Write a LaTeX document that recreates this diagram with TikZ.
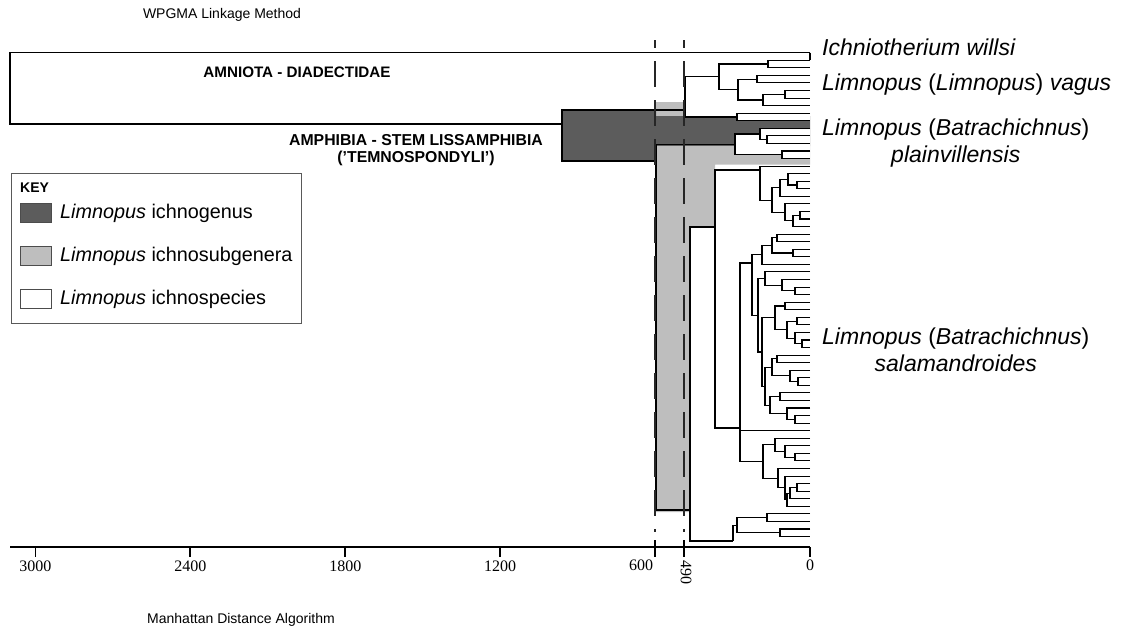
\documentclass[tikz,border=0pt]{standalone}
\usepackage{fontspec}
\setmainfont{Liberation Sans}
\newfontfamily\axisfont{Liberation Serif}
\usetikzlibrary{calc,backgrounds}
\definecolor{genusgray}{HTML}{5C5C5C}
\definecolor{subgengray}{HTML}{BEBEBE}
\tikzset{
  branch/.style={draw=black, line width=1.1pt},
  hullline/.style={draw=black, line width=1.5pt},
  cutline/.style={draw=black!85, line width=2.4pt, dash pattern=on 26pt off 13pt, dash phase=18pt},
  axisline/.style={draw=black, line width=1.8pt},
  ticknum/.style={font=\axisfont\fontsize{16}{18}\selectfont, inner sep=1pt},
  taxon/.style={font=\fontsize{23}{27}\selectfont, align=center, anchor=west, inner sep=0pt},
  grouplabel/.style={font=\bfseries\fontsize{15.2}{16.5}\selectfont, align=center, inner sep=0pt},
  keytext/.style={font=\fontsize{19.8}{22}\selectfont, anchor=west, inner sep=0pt},
  keyframe/.style={draw=black!65, line width=0.9pt, minimum width=290pt, minimum height=150pt, inner sep=0pt},
  swatch/.style={draw=black!70, line width=0.9pt, minimum width=31pt, minimum height=19pt, inner sep=0pt},
  caption/.style={font=\fontsize{14}{16}\selectfont, inner sep=0pt}
}
\newcommand\clade[4]{%
  \path let \p1=($(#3)!.5!(#4)$) in (#2pt,\y1) coordinate (#1);
  \draw[branch] (#3) -| (#1) |- (#4);}
\newcommand\cladeat[5]{%
  \coordinate (#1) at (#2,#3);
  \draw[branch] (#4) -| (#1) |- (#5);}

\begin{document}
\begin{tikzpicture}[x=1pt, y=-1pt]
  \useasboundingbox (0,0) rectangle (1125,635);
  \foreach \i in {0,...,64} \coordinate (l\i) at (810,{52.7+7.56*\i});

  % Limnopus (Limnopus)
  \clade{va}{768}{l1}{l2}
  \clade{vb}{757}{l3}{l4}
  \clade{vc}{785}{l5}{l6}
  \clade{vd}{763}{vc}{l7}
  \clade{ve}{738}{vb}{vd}
  \clade{vag}{719}{va}{ve}
  \clade{vx}{737}{l8}{l9}
  \cladeat{lim}{685}{110}{vag}{vx}

  % plainvillensis
  \clade{pa}{767}{l11}{l12}
  \clade{pb}{760}{l10}{pa}
  \clade{pc}{782}{l13}{l14}
  \clade{pla}{735}{pb}{pc}

  % salamandroides
  \clade{sa}{797}{l17}{l18}
  \clade{sb}{788}{l16}{sa}
  \clade{sc}{780}{sb}{l19}
  \clade{sd}{800}{l21}{l22}
  \clade{se}{793}{sd}{l23}
  \clade{sf}{785}{l20}{se}
  \clade{sg}{772}{sc}{sf}
  \cladeat{sh}{760}{170}{l15}{sg}
  \clade{ua}{777}{l24}{l25}
  \clade{ub}{793}{l26}{l27}
  \clade{uc}{772}{ua}{ub}
  \clade{ud}{762}{uc}{l28}
  \clade{ue}{795}{l31}{l32}
  \clade{uf}{782}{l30}{ue}
  \clade{ug}{765}{l29}{uf}
  \clade{uh}{785}{l33}{l34}
  \clade{ui}{797}{l35}{l36}
  \clade{uj}{802}{l38}{l39}
  \clade{uk}{795}{l37}{uj}
  \clade{ul}{787}{ui}{uk}
  \clade{um}{775}{uh}{ul}
  \clade{un}{777}{l40}{l41}
  \clade{uo}{798}{l43}{l44}
  \clade{up}{790}{l42}{uo}
  \clade{uq}{772}{un}{up}
  \clade{ur}{780}{l45}{l46}
  \clade{us}{795}{l48}{l49}
  \clade{ut}{787}{l47}{us}
  \clade{uu}{770}{ur}{ut}
  \clade{uv}{765}{uq}{uu}
  \clade{uw}{762}{um}{uv}
  \clade{ux}{758}{ug}{uw}
  \cladeat{uy}{752}{263}{ud}{ux}
  \clade{ta}{740}{uy}{l50}
  \clade{wa}{795}{l53}{l54}
  \clade{wb}{785}{l52}{wa}
  \clade{wc}{775}{l51}{wb}
  \clade{wd}{797}{l57}{l58}
  \clade{we}{790}{wd}{l59}
  \clade{wf}{787}{we}{l60}
  \clade{wg}{785}{l56}{wf}
  \clade{wh}{778}{l55}{wg}
  \clade{wi}{763}{wc}{wh}
  \cladeat{tb}{740}{428}{ta}{wi}
  \cladeat{gx}{715}{227}{sh}{tb}
  \clade{xa}{767}{l61}{l62}
  \clade{xb}{780}{l63}{l64}
  \clade{xc}{737}{xa}{xb}
  \coordinate (xd) at (733,541);
  \draw[branch] (xc) -| (xd);
  \cladeat{sal}{690}{510}{gx}{xd}

  \cladeat{bat}{656}{161}{pla}{sal}
  \cladeat{gen}{562}{124}{lim}{bat}
  \coordinate (root) at (10,88);
  \draw[hullline] (l0) -| (root) |- (gen);
  \draw[hullline] (l0) -- (l1);

  \begin{scope}[on background layer]
    \fill[subgengray] (656,102) rectangle (685,116);
    \fill[genusgray] (562,110) -- (656,110) -- (656,116) -- (810,116) -- (810,146)
      -- (656,146) -- (656,161) -- (562,161) -- cycle;
    \fill[subgengray] (656,146) -- (810,146) -- (810,164.5) -- (715,164.5) -- (715,227)
      -- (690,227) -- (690,512) -- (656,512) -- cycle;
    \fill[white] (vx |- l8) rectangle (l9);
    \fill[white] (pla |- pb) -- (pb) -- (pb |- l10) -- (l10) -- (l14) -- (pc |- l14)
      -- (pc) -- (pla |- pc) -- cycle;
  \end{scope}

  \draw[cutline] (655,40) -- (655,532);
  \draw[cutline] (684,40) -- (684,532);

  \draw[axisline] (10,547) -- (810,547);
  \foreach \d in {3000,2400,1800,1200}
    \draw[axisline] ({810-0.2582*\d},547) -- ++(0,10) node[ticknum, below=2pt] {\d};
  \draw[axisline] (655,540) -- (655,557);
  \node[ticknum, anchor=north] (t600) at (641,559) {600};
  \draw[axisline] (684,540) -- (684,557);
  \node[ticknum, rotate=-90, anchor=west] (t490) at (686,559) {490};
  \draw[axisline] (810,547) -- (810,557);
  \node[ticknum, anchor=north] (t0) at (810,559) {0};

  \node[caption] (ttl) at (222,15) {WPGMA Linkage Method};
  \node[caption] (xcap) at (241,620) {Manhattan Distance Algorithm};

  \node[grouplabel] (amnio) at (297,72) {AMNIOTA - DIADECTIDAE};
  \node[grouplabel, font=\bfseries\fontsize{15.8}{16.5}\selectfont] (amphi) at (416,150) {AMPHIBIA - STEM LISSAMPHIBIA\\('TEMNOSPONDYLI')};

  \node[taxon] (ichn) at (822,47) {\textit{Ichniotherium willsi}};
  \node[taxon] (vagus) at (822,85) {\textit{Limnopus} (\textit{Limnopus}) \textit{vagus}};
  \node[taxon] (plain) at (822,143) {\textit{Limnopus} (\textit{Batrachichnus})\\\textit{plainvillensis}};
  \node[taxon] (salam) at (822,350) {\textit{Limnopus} (\textit{Batrachichnus})\\\textit{salamandroides}};

  \node[keyframe] (keybox) at (156,248) {};
  \node[font=\bfseries\fontsize{14}{16}\selectfont, anchor=west, inner sep=0pt] (keyhd) at (20,188) {KEY};
  \node[swatch, fill=genusgray] (swgen) at (35.5,212.5) {};
  \node[keytext] (txgen) at (60,213) {\textit{Limnopus} ichnogenus};
  \node[swatch, fill=subgengray] (swsub) at (35.5,255.5) {};
  \node[keytext] (txsub) at (60,256) {\textit{Limnopus} ichnosubgenera};
  \node[swatch, fill=white] (swspe) at (35.5,298.5) {};
  \node[keytext] (txspe) at (60,299) {\textit{Limnopus} ichnospecies};
\end{tikzpicture}
\end{document}
